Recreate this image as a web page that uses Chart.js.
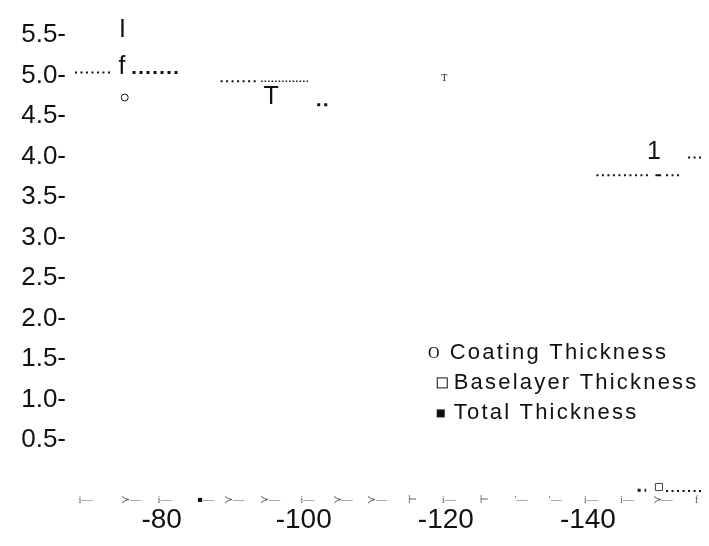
<!DOCTYPE html>
<html>
<head>
<meta charset="utf-8">
<script src="https://cdn.jsdelivr.net/npm/chart.js@4.4.0/dist/chart.umd.min.js"></script>
<style>
  html, body { margin: 0; padding: 0; background: #fff; }
  #wrap { width: 709px; height: 546px; }
</style>
</head>
<body>
<div id="wrap"><canvas id="myChart" width="709" height="546"></canvas></div>
<script>
// tick labels
const xTicks = [-80, -100, -120, -140];
const yTicks = [0.5, 1.0, 1.5, 2.0, 2.5, 3.0, 3.5, 4.0, 4.5, 5.0, 5.5];

// dotted runs (x from, x to) and level
const topLeftX = [-67.8, -73.1],   topLeftY = [5.04, 5.04];
const topBoldX = [-75.9, -82.8],   topBoldY = [5.04, 5.04];
const midRunX = [-88.3, -93.3],    midRunY = [4.93, 4.93];
const midFineX = [-94.0, -100.8],  midFineY = [4.93, 4.93];
const midBoldX = [-101.9, -103.6], midBoldY = [4.64, 4.64];
const rightRunX = [-141.2, -148.7], rightRunY = [3.77, 3.77];
const rightDashX = [-149.5, -150.3], rightDashY = [3.77, 3.77];
const rightTailX = [-151.0, -153.1], rightTailY = [3.77, 3.77];
const rightTopX = [-154.1, -156.6], rightTopY = [3.99, 3.99];
const lowBoldX = [-147.0, -148.2], lowBoldY = [-0.12, -0.12];
const lowRunX = [-151.0, -156.4],  lowRunY = [-0.13, -0.13];

// markers
const coatingX = [-74.8],   coatingY = [4.73];
const baselayerX = [-150.0], baselayerY = [-0.08];
const totalX = [-85.4],     totalY = [-0.24];

// letters scattered in the plot
const bigText = ["I", "f", "T", "1"];
const bigX = [-74.5, -74.4, -95.4, -149.3];
const bigY = [5.56, 5.10, 4.73, 4.06];
const tinyText = ["T"];
const tinyX = [-119.8];
const tinyY = [4.97];

// faint marks along the bottom
const rowText = ["i\u2014", "\u227B\u2014", "i\u2014", "\u2014", "\u227B\u2014", "\u227B\u2014", "i\u2014", "\u227B\u2014", "\u227B\u2014",
                 "\u22A2", "i\u2014", "\u22A2", "'\u2014", "'\u2014", "i\u2014", "i\u2014", "\u227B\u2014", "f"];
const rowX = [-69.3, -75.7, -80.4, -86.6, -90.2, -95.3, -100.5, -105.5, -110.3,
              -115.3, -120.4, -125.4, -130.6, -135.4, -140.4, -145.5, -150.5, -155.3];
const rowY = -0.24;

const legendNames = ["Coating Thickness", "Baselayer Thickness", "Total Thickness"];

const INK = "#111";
const fine = { w: 2, dash: [2, 3.5] };
const bold = { w: 3, dash: [3, 4] };
const tiny = { w: 1.5, dash: [1.5, 2] };

function run(label, xs, ys, st) {
    return {
        label: label,
        data: xs.map((v, i) => ({ x: v, y: ys[i] })),
        showLine: true,
        borderColor: INK,
        borderWidth: st.w,
        borderDash: st.dash || [],
        borderCapStyle: "butt",
        pointRadius: 0,
        fill: false
    };
}

function pts(label, xs, ys, extra) {
    return Object.assign({
        label: label,
        data: xs.map((v, i) => ({ x: v, y: ys[i] })),
        showLine: false
    }, extra);
}

const glyphs = {
    id: "glyphs",
    afterDatasetsDraw(chart) {
        const { ctx, scales: { x, y } } = chart;
        ctx.save();
        ctx.fillStyle = INK;
        ctx.textAlign = "center";
        ctx.textBaseline = "middle";
        ctx.font = "25px 'Liberation Sans', Arial, sans-serif";
        bigText.forEach((t, i) => ctx.fillText(t, x.getPixelForValue(bigX[i]), y.getPixelForValue(bigY[i])));
        ctx.font = "10px 'Liberation Serif', 'DejaVu Serif', serif";
        tinyText.forEach((t, i) => ctx.fillText(t, x.getPixelForValue(tinyX[i]), y.getPixelForValue(tinyY[i])));
        ctx.fillStyle = "#666";
        ctx.font = "11px 'Liberation Serif', 'DejaVu Serif', serif";
        rowText.forEach((t, i) => ctx.fillText(t, x.getPixelForValue(rowX[i]), y.getPixelForValue(rowY)));
        ctx.restore();
    }
};

// legend sits inside the plot, lower right
const legendBox = {
    id: "legendBox",
    afterDraw(chart) {
        const { ctx, scales: { x, y } } = chart;
        const left = x.getPixelForValue(-118.3);
        const top = y.getPixelForValue(1.57);
        ctx.save();
        ctx.textBaseline = "middle";
        legendNames.forEach((name, i) => {
            const cy = top + i * 30;
            ctx.fillStyle = INK;
            ctx.strokeStyle = INK;
            ctx.letterSpacing = "0px";
            if (i === 0) {
                ctx.textAlign = "center";
                ctx.font = "16px 'Liberation Serif', serif";
                ctx.fillText("O", left, cy);
            } else if (i === 1) {
                ctx.lineWidth = 1;
                ctx.strokeRect(left + 3.5, cy - 5.5, 10, 10);
            } else {
                ctx.fillRect(left + 3, cy - 4, 8, 8);
            }
            ctx.textAlign = "left";
            ctx.font = "22px 'Liberation Sans', Arial, sans-serif";
            ctx.letterSpacing = "2.2px";
            ctx.fillText(name, left + (i === 0 ? 16 : 20), cy);
        });
        ctx.restore();
    }
};

const ctx = document.getElementById("myChart").getContext("2d");
const myChart = new Chart(ctx, {
    type: "scatter",
    data: {
        datasets: [
            run("top left", topLeftX, topLeftY, fine),
            run("top bold", topBoldX, topBoldY, bold),
            run("mid", midRunX, midRunY, fine),
            run("mid fine", midFineX, midFineY, tiny),
            run("mid bold", midBoldX, midBoldY, bold),
            run("right", rightRunX, rightRunY, fine),
            run("right dash", rightDashX, rightDashY, { w: 2 }),
            run("right tail", rightTailX, rightTailY, fine),
            run("right top", rightTopX, rightTopY, fine),
            run("low bold", lowBoldX, lowBoldY, bold),
            run("low", lowRunX, lowRunY, fine),
            pts("Coating Thickness", coatingX, coatingY, {
                pointStyle: "circle", pointRadius: 3.5, borderWidth: 1,
                borderColor: INK, backgroundColor: "#fff"
            }),
            pts("Baselayer Thickness", baselayerX, baselayerY, {
                pointStyle: "rect", pointRadius: 5, borderWidth: 1,
                borderColor: "#444", backgroundColor: "#fff"
            }),
            pts("Total Thickness", totalX, totalY, {
                pointStyle: "rect", pointRadius: 3, borderWidth: 0,
                borderColor: INK, backgroundColor: INK
            })
        ]
    },
    options: {
        responsive: false,
        animation: false,
        devicePixelRatio: 1,
        layout: { padding: { top: 6, left: 0, right: 0, bottom: 0 } },
        plugins: {
            legend: { display: false },
            tooltip: { enabled: false }
        },
        scales: {
            x: {
                type: "linear",
                min: -156.2,
                max: -67.1,
                reverse: true,
                border: { display: false },
                grid: { display: false, drawTicks: false },
                afterBuildTicks: s => { s.ticks = xTicks.map(v => ({ value: v })); },
                afterFit: s => { s.height = 44; s.paddingLeft = 0; s.paddingRight = 0; },
                ticks: {
                    padding: 1,
                    color: INK,
                    font: { family: "'Liberation Sans', Arial, sans-serif", size: 28 },
                    maxRotation: 0,
                    callback: v => String(v)
                }
            },
            y: {
                type: "linear",
                min: -0.265,
                max: 5.86,
                border: { display: false },
                grid: { display: false, drawTicks: false },
                afterBuildTicks: s => { s.ticks = yTicks.map(v => ({ value: v })); },
                afterFit: s => { s.width = 70; s.paddingTop = 0; s.paddingBottom = 0; },
                ticks: {
                    padding: 4,
                    color: INK,
                    font: { family: "'Liberation Sans', Arial, sans-serif", size: 26 },
                    callback: v => v.toFixed(1) + "-"
                }
            }
        }
    },
    plugins: [glyphs, legendBox]
});
</script>
</body>
</html>
